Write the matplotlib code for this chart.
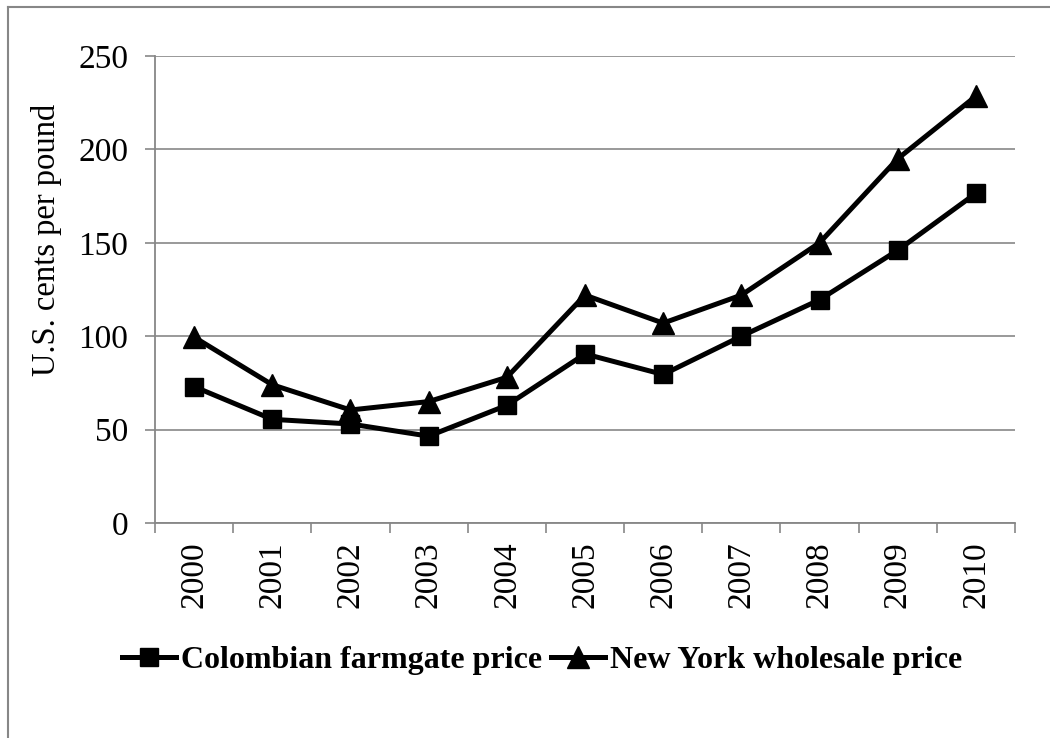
import matplotlib
matplotlib.use("Agg")
import matplotlib.pyplot as plt
from matplotlib.lines import Line2D

plt.rcParams['font.family'] = ['Liberation Serif', 'DejaVu Serif']

years = ['2000', '2001', '2002', '2003', '2004', '2005', '2006', '2007', '2008', '2009', '2010']
colombian = [73, 55.5, 53, 46.5, 63, 90.5, 79.5, 100, 119.5, 146, 176.5]
new_york = [99.5, 74, 60.5, 65, 78, 122, 107, 122, 150, 195, 228.5]

grey = '#878787'

fig = plt.figure(figsize=(10.5, 7.38), dpi=100)
ax = fig.add_axes([155/1050, 1 - 523/738, (1015 - 155)/1050, (523 - 56)/738])

x = list(range(len(years)))
ax.plot(x, colombian, color='black', lw=3.6, marker='s', markersize=12.5,
        label='Colombian farmgate price', clip_on=False)
ax.plot(x, new_york, color='black', lw=3.6, marker='^', markersize=16.5,
        label='New York wholesale price', clip_on=False)

ax.set_xlim(-0.5, len(years) - 0.5)
ax.set_ylim(0, 250)
ax.set_yticks([0, 50, 100, 150, 200, 250])
ax.yaxis.grid(True, color=grey, lw=1.2)
ax.set_axisbelow(True)

ax.set_xticks(x)
ax.set_xticklabels(years, rotation=90, fontsize=24)
ax.tick_params(axis='x', which='major', length=0, pad=13)
ax.set_xticks([i - 0.5 for i in range(len(years) + 1)], minor=True)
ax.tick_params(axis='x', which='minor', length=7.2, width=1.2, color=grey, direction='out')
ax.tick_params(axis='y', labelsize=24, length=7.2, width=1.2, color=grey, pad=12)

for s in ['top', 'right']:
    ax.spines[s].set_visible(False)
for s in ['left', 'bottom']:
    ax.spines[s].set_color(grey)
    ax.spines[s].set_linewidth(1.3)

ax.set_ylabel('U.S. cents per pound', fontsize=23.5)
ax.yaxis.set_label_coords(-0.108, 0.606)

leg = fig.legend(loc='center', bbox_to_anchor=(542/1050, 1 - 660/738), ncol=2,
                 frameon=False, prop={'weight': 'bold', 'size': 23},
                 handlelength=1.69, handletextpad=0.15, columnspacing=0.3)

# outer frame (left and top edges only visible)
fig.add_artist(Line2D([8/1050, 8/1050], [0, 1 - 7/738], color=grey, lw=1.5,
                      transform=fig.transFigure))
fig.add_artist(Line2D([8/1050, 1], [1 - 7/738, 1 - 7/738], color=grey, lw=1.5,
                      transform=fig.transFigure))

fig.savefig('out.png', dpi=100)
